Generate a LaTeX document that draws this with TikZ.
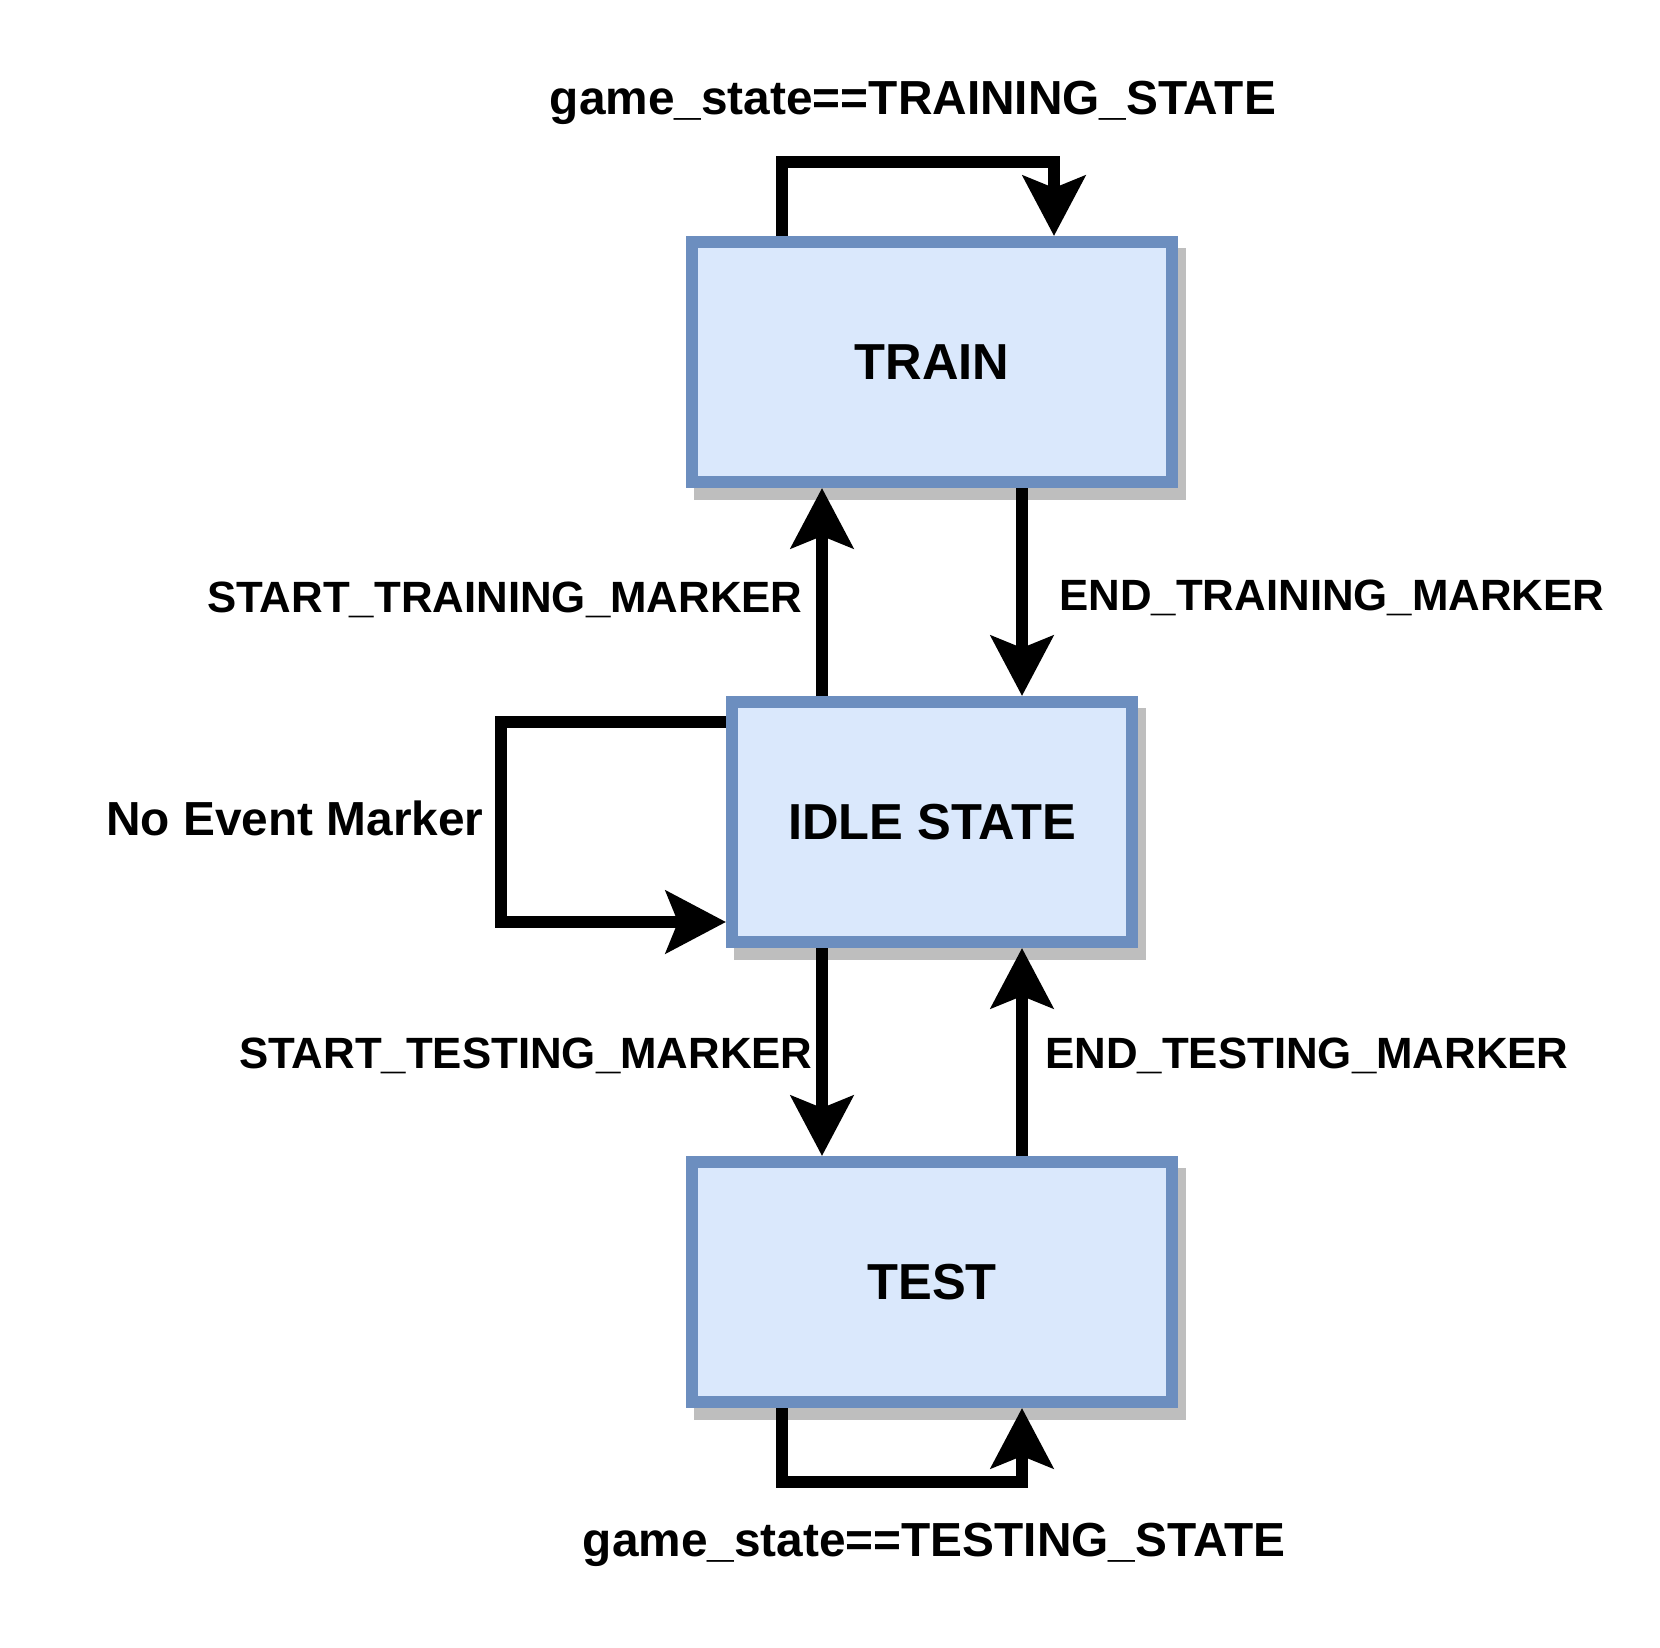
\documentclass[tikz,border=0pt]{standalone}
\usepackage{fontspec}
\setmainfont{Liberation Sans}
\usepackage{tikz}
\usetikzlibrary{positioning,shapes,arrows.meta,calc,shadows}
\definecolor{boxblue}{HTML}{DAE8FC}
\definecolor{edgeblue}{HTML}{6C8EBF}
\definecolor{shadowgray}{HTML}{BEBEBE}

\tikzset{
  state/.style={draw=edgeblue, fill=boxblue, line width=6pt, inner sep=0pt,
    minimum width=240pt, minimum height=120pt,
    font=\fontsize{25.3}{30}\selectfont\bfseries,
    drop shadow={shadow xshift=4pt, shadow yshift=-6pt, fill=shadowgray,
      draw=shadowgray, opacity=1}},
  marker/.style={inner sep=0pt, font=\fontsize{21.9}{26}\selectfont\bfseries},
  cond/.style={inner sep=0pt, font=\fontsize{23.9}{28}\selectfont\bfseries},
  trans/.style={line width=6pt, -{Stealth[length=30pt, width=31pt, inset=6pt]}}
}

\begin{document}
\begin{tikzpicture}[x=0.5pt, y=-0.5pt]
  \useasboundingbox (0,0) rectangle (1660,1648);
  \node[state] (train) at (932,362) {TRAIN};
  \node[state, minimum width=200pt] (idle) at (932,822) {IDLE STATE};
  \node[state] (test) at (932,1282) {TEST};
  \draw[trans] ($(train.north)+(-150,0)$) -- ++(0,-74) -| ($(train.north)+(122,0)$);
  \node[cond, anchor=base] (trainloop) at (913,115) {game\_state==TRAINING\_STATE};
  \draw[trans] ($(idle.north)+(-110,0)$) -- ($(train.south)+(-110,0)$);
  \node[marker, anchor=base east] (starttrain) at (803,612) {START\_TRAINING\_MARKER};
  \draw[trans] ($(train.south)+(90,0)$) -- ($(idle.north)+(90,0)$);
  \node[marker, anchor=base west] (endtrain) at (1059,610) {END\_TRAINING\_MARKER};
  \draw[trans] ($(idle.west)+(0,-100)$) -| ($(idle.west)+(-225,0)$) |- ($(idle.west)+(0,100)$);
  \node[cond, anchor=base east] (noevent) at (484,835) {No Event Marker};
  \draw[trans] ($(idle.south)+(-110,0)$) -- ($(test.north)+(-110,0)$);
  \node[marker, anchor=base east] (starttest) at (813,1068) {START\_TESTING\_MARKER};
  \draw[trans] ($(test.north)+(90,0)$) -- ($(idle.south)+(90,0)$);
  \node[marker, anchor=base west] (endtest) at (1045,1068) {END\_TESTING\_MARKER};
  \draw[trans] ($(test.south)+(-150,0)$) -- ++(0,74) -| ($(test.south)+(90,0)$);
  \node[cond, anchor=base] (testloop) at (934,1556) {game\_state==TESTING\_STATE};
\end{tikzpicture}
\end{document}
